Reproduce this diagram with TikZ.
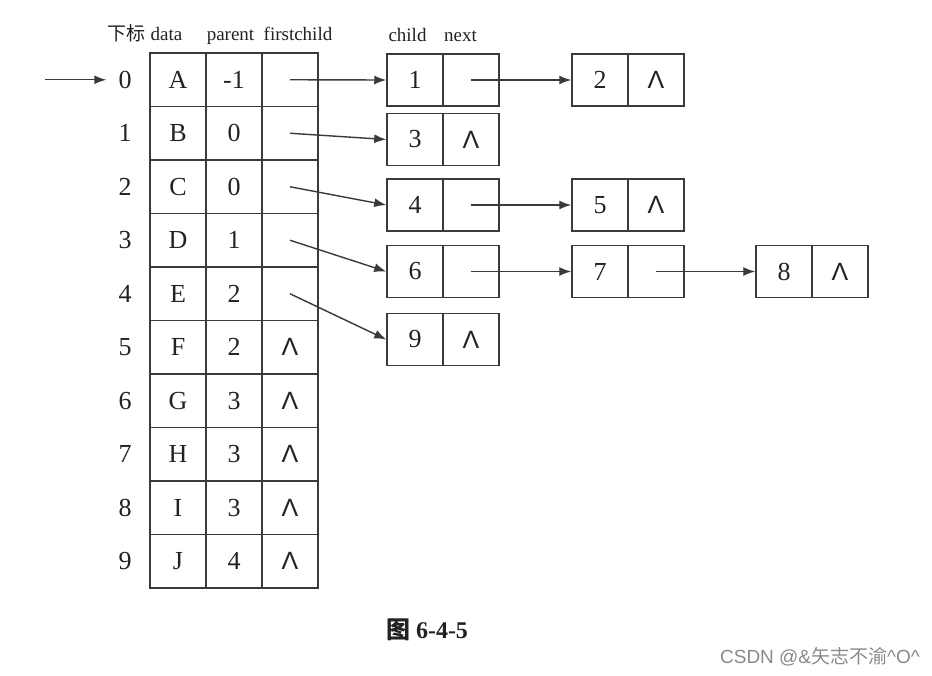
\documentclass[tikz,border=0pt]{standalone}
\usepackage{fontspec}
\setmainfont{Liberation Serif}
\newfontfamily\cjkf{Noto Sans CJK SC}
\newfontfamily\lsans{Liberation Sans}
\usetikzlibrary{arrows.meta}
\definecolor{linec}{HTML}{3A3A3A}
\definecolor{txt}{HTML}{222222}
\definecolor{wm}{HTML}{8A8A8A}
\newcommand{\nullp}{{\lsans\fontsize{25}{27}\selectfont Λ}}
\begin{document}
\begin{tikzpicture}[x=1pt,y=-1pt,
  cell/.style={draw=linec, line width=1.5pt, minimum width=56pt, minimum height=53.5pt, inner sep=0pt, font=\fontsize{26}{28}\selectfont, text=txt},
  lcell/.style={cell, minimum height=52pt},
  hdr/.style={font=\fontsize{19}{21}\selectfont, text=txt, inner sep=0pt, anchor=base},
  idx/.style={font=\fontsize{26}{28}\selectfont, text=txt, inner ysep=0pt, inner xsep=12pt},
  ptr/.style={draw=linec, line width=1.4pt, -{Latex[length=12pt,width=9pt]}},
]
\useasboundingbox (0,0) rectangle (932,675);
\fill[white] (0,0) rectangle (932,675);
% headers
\node[hdr] (h0) at (126,40) {\cjkf 下标};
\node[hdr] (h1) at (166.5,40) {data};
\node[hdr] (h2) at (230.5,40) {parent};
\node[hdr] (h3) at (298,40) {firstchild};
\node[hdr] (h4) at (407.5,41) {child};
\node[hdr] (h5) at (460.5,41) {next};
% table
\foreach \r/\d/\p in {0/A/-1,1/B/0,2/C/0,3/D/1,4/E/2,5/F/2,6/G/3,7/H/3,8/I/3,9/J/4}{
  \node[idx] (i\r) at (125,{79.75+53.5*\r}) {\r};
  \node[cell] (d\r) at (178,{79.75+53.5*\r}) {\d};
  \node[cell] (p\r) at (234,{79.75+53.5*\r}) {\p};
}
\foreach \r in {0,...,4}{
  \node[cell] (f\r) at (290,{79.75+53.5*\r}) {};
}
\foreach \r in {5,...,9}{
  \node[cell] (f\r) at (290,{79.75+53.5*\r}) {\nullp};
}
% child lists
\node[lcell] (c1a) at (415,80) {1};   \node[lcell] (c1b) at (471,80) {};
\node[lcell] (c2a) at (600,80) {2};   \node[lcell] (c2b) at (656,80) {\nullp};
\node[lcell] (c3a) at (415,139.5) {3}; \node[lcell] (c3b) at (471,139.5) {\nullp};
\node[lcell] (c4a) at (415,205) {4};  \node[lcell] (c4b) at (471,205) {};
\node[lcell] (c5a) at (600,205) {5};  \node[lcell] (c5b) at (656,205) {\nullp};
\node[lcell] (c6a) at (415,271.5) {6}; \node[lcell] (c6b) at (471,271.5) {};
\node[lcell] (c7a) at (600,271.5) {7}; \node[lcell] (c7b) at (656,271.5) {};
\node[lcell] (c8a) at (784,271.5) {8}; \node[lcell] (c8b) at (840,271.5) {\nullp};
\node[lcell] (c9a) at (415,339.5) {9}; \node[lcell] (c9b) at (471,339.5) {\nullp};
% pointers
\coordinate (start) at (45,79.75);
\draw[ptr] (start) -- (i0.west);
\draw[ptr] (f0.center) -- (c1a.west);
\draw[ptr] (f1.center) -- (c3a.west);
\draw[ptr] (f2.center) -- (c4a.west);
\draw[ptr] (f3.center) -- (c6a.west);
\draw[ptr] (f4.center) -- (c9a.west);
\draw[ptr] (c1b.center) -- (c2a.west);
\draw[ptr] (c4b.center) -- (c5a.west);
\draw[ptr] (c6b.center) -- (c7a.west);
\draw[ptr] (c7b.center) -- (c8a.west);
% caption
\node[text=txt, inner sep=0pt, font=\fontsize{24}{26}\selectfont\bfseries] (cap) at (427,630) {{\cjkf 图} 6-4-5};
\node[text=wm, inner sep=0pt, anchor=east, font=\fontsize{19}{21}\selectfont] (wmk) at (920,657) {\lsans CSDN @\&{\cjkf 矢志不渝}\textasciicircum O\textasciicircum};
\end{tikzpicture}
\end{document}
